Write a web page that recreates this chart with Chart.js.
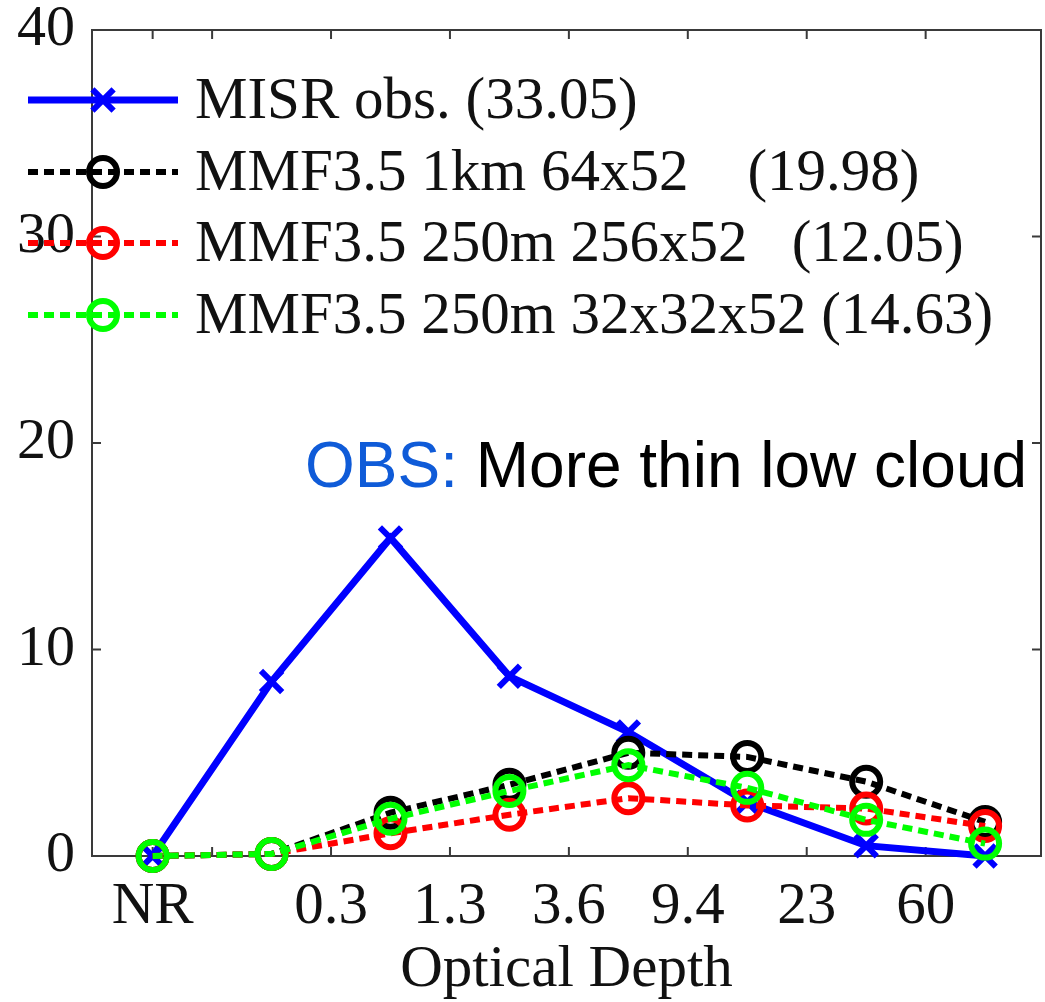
<!DOCTYPE html>
<html>
<head>
<meta charset="utf-8">
<script src="https://cdn.jsdelivr.net/npm/chart.js@4.4.1/dist/chart.umd.min.js"></script>
<style>
  html, body { margin: 0; padding: 0; background: #fff; }
  #wrap { width: 1045px; height: 1002px; }
</style>
</head>
<body>
<div id="wrap"><canvas id="odChart" width="1045" height="1002"></canvas></div>
<script>
// optical depth bins (x index), tick positions and labels
const binIndex = [0, 1, 2, 3, 4, 5, 6, 7];
const tickPositions = [0, 0.5, 1.5, 2.5, 3.5, 4.5, 5.5, 6.5];
const tickLabels = ['NR', '', '0.3', '1.3', '3.6', '9.4', '23', '60'];
const yTicks = [0, 10, 20, 30, 40];

// low cloud fraction per bin
const misrObs = [0, 8.45, 15.4, 8.7, 6.0, 2.6, 0.5, 0];
const mmf1km = [0, 0.1, 2.1, 3.45, 5.0, 4.8, 3.6, 1.65];
const mmf250m256 = [0, 0.1, 1.1, 2.0, 2.8, 2.45, 2.3, 1.45];
const mmf250m3232 = [0, 0.1, 1.8, 3.15, 4.4, 3.3, 1.75, 0.6];

const seriesNames = [
  'MISR obs. (33.05)',
  'MMF3.5 1km 64x52    (19.98)',
  'MMF3.5 250m 256x52   (12.05)',
  'MMF3.5 250m 32x32x52 (14.63)'
];

const SERIF = '"Liberation Serif", "Times New Roman", serif';

function toPoints(vals) {
  return binIndex.map((x, i) => ({ x: x, y: vals[i] }));
}

function noPadding(scale) {
  scale.paddingTop = 0;
  scale.paddingBottom = 0;
  scale.paddingLeft = 0;
  scale.paddingRight = 0;
}

// box + inward ticks, matlab style
const framePlugin = {
  id: 'frame',
  beforeDatasetsDraw(chart) {
    const { ctx, chartArea: a, scales } = chart;
    ctx.save();
    ctx.strokeStyle = '#3a3a3a';
    ctx.lineWidth = 2;
    ctx.strokeRect(a.left, a.top, a.right - a.left, a.bottom - a.top);
    ctx.beginPath();
    tickPositions.forEach(v => {
      const px = scales.x.getPixelForValue(v);
      ctx.moveTo(px, a.bottom); ctx.lineTo(px, a.bottom - 9);
      ctx.moveTo(px, a.top); ctx.lineTo(px, a.top + 9);
    });
    yTicks.slice(1, -1).forEach(v => {
      const py = scales.y.getPixelForValue(v);
      ctx.moveTo(a.left, py); ctx.lineTo(a.left + 9, py);
      ctx.moveTo(a.right, py); ctx.lineTo(a.right - 9, py);
    });
    ctx.stroke();
    ctx.restore();
  }
};

// legend in the upper left + annotation text
const legendPlugin = {
  id: 'matlabLegend',
  afterDraw(chart) {
    const ctx = chart.ctx;
    const rows = [100, 172, 243, 315];
    ctx.save();
    chart.data.datasets.forEach((ds, i) => {
      const yy = rows[i];
      ctx.strokeStyle = ds.borderColor;
      ctx.lineWidth = ds.borderWidth;
      ctx.setLineDash(ds.borderDash || []);
      ctx.beginPath();
      ctx.moveTo(28, yy);
      ctx.lineTo(178, yy);
      ctx.stroke();
      ctx.setLineDash([]);
      ctx.lineWidth = ds.pointBorderWidth;
      ctx.fillStyle = 'rgba(0,0,0,0)';
      Chart.helpers.drawPoint(ctx, {
        pointStyle: ds.pointStyle, radius: ds.pointRadius, rotation: 0, borderWidth: ds.pointBorderWidth
      }, 103, yy);
      ctx.fillStyle = '#111';
      ctx.font = '59px ' + SERIF;
      ctx.textBaseline = 'middle';
      ctx.fillText(seriesNames[i], 195, yy + 2);
    });

    ctx.font = '64px "Liberation Sans", Arial, sans-serif';
    ctx.textBaseline = 'alphabetic';
    ctx.fillStyle = '#0f5bd8';
    ctx.fillText('OBS:', 305, 487);
    const w = ctx.measureText('OBS: ').width;
    ctx.fillStyle = '#000';
    ctx.fillText('More thin low cloud', 305 + w, 487);
    ctx.restore();
  }
};

new Chart(document.getElementById('odChart'), {
  type: 'line',
  data: {
    datasets: [
      {
        label: seriesNames[0], data: toPoints(misrObs),
        borderColor: '#0000ff', borderWidth: 7,
        pointStyle: 'crossRot', pointRadius: 15, pointBorderWidth: 6,
        pointBorderColor: '#0000ff', pointBackgroundColor: '#0000ff',
        order: 4, clip: false
      },
      {
        label: seriesNames[1], data: toPoints(mmf1km),
        borderColor: '#000000', borderWidth: 6, borderDash: [10, 6],
        pointStyle: 'circle', pointRadius: 14, pointBorderWidth: 6,
        pointBorderColor: '#000000', pointBackgroundColor: 'rgba(0,0,0,0)',
        order: 3, clip: false
      },
      {
        label: seriesNames[2], data: toPoints(mmf250m256),
        borderColor: '#ff0000', borderWidth: 6, borderDash: [10, 6],
        pointStyle: 'circle', pointRadius: 14, pointBorderWidth: 6,
        pointBorderColor: '#ff0000', pointBackgroundColor: 'rgba(0,0,0,0)',
        order: 2, clip: false
      },
      {
        label: seriesNames[3], data: toPoints(mmf250m3232),
        borderColor: '#00ff00', borderWidth: 6, borderDash: [10, 6],
        pointStyle: 'circle', pointRadius: 14, pointBorderWidth: 6,
        pointBorderColor: '#00ff00', pointBackgroundColor: 'rgba(0,0,0,0)',
        order: 1, clip: false
      }
    ]
  },
  options: {
    responsive: false,
    animation: false,
    devicePixelRatio: 1,
    layout: { autoPadding: false, padding: { top: 30, right: 4, left: 0, bottom: 0 } },
    plugins: { legend: { display: false }, tooltip: { enabled: false } },
    scales: {
      x: {
        type: 'linear', min: -0.51, max: 7.47,
        grid: { display: false, drawTicks: false },
        border: { display: false },
        afterBuildTicks: scale => { scale.ticks = tickPositions.map(v => ({ value: v })); },
        afterFit: scale => { scale.height = 146; noPadding(scale); },
        ticks: {
          autoSkip: false, maxRotation: 0, padding: 16, color: '#111',
          font: { family: SERIF, size: 59 },
          callback: (v) => tickLabels[tickPositions.indexOf(v)]
        },
        title: {
          display: true, text: 'Optical Depth', color: '#111',
          font: { family: SERIF, size: 59 }, padding: { top: 0, bottom: -4 }
        }
      },
      y: {
        min: 0, max: 40,
        grid: { display: false, drawTicks: false },
        border: { display: false },
        afterBuildTicks: scale => { scale.ticks = yTicks.map(v => ({ value: v })); },
        afterFit: scale => { scale.width = 92; noPadding(scale); },
        ticks: {
          padding: 17, color: '#111',
          font: { family: SERIF, size: 58 }
        }
      }
    }
  },
  plugins: [framePlugin, legendPlugin]
});
</script>
</body>
</html>
